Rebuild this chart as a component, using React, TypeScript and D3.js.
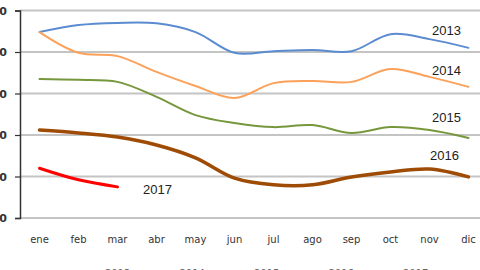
import React, { useRef, useEffect } from "react";
import * as d3 from "d3";

const months = ["ene", "feb", "mar", "abr", "may", "jun", "jul", "ago", "sep", "oct", "nov", "dic"];
const yTicks = [0, 1, 2, 3, 4, 5];
const yTickLabels = ["0", "10", "20", "30", "40", "50"];

const s2013 = [4.48, 4.65, 4.7, 4.69, 4.48, 3.98, 4.02, 4.05, 4.02, 4.43, 4.31, 4.1];
const s2014 = [4.48, 3.98, 3.9, 3.52, 3.18, 2.89, 3.25, 3.3, 3.28, 3.59, 3.4, 3.16];
const s2015 = [3.35, 3.33, 3.28, 2.92, 2.48, 2.29, 2.19, 2.24, 2.05, 2.19, 2.12, 1.93];
const s2016 = [2.12, 2.05, 1.95, 1.76, 1.45, 0.96, 0.8, 0.8, 0.99, 1.11, 1.18, 0.99];
const s2017 = [1.2, 0.92, 0.75];
const years = ["2013", "2014", "2015", "2016", "2017"];

const App: React.FC = () => {
  const svgRef = useRef<SVGSVGElement | null>(null);

  useEffect(() => {
    if (!svgRef.current) return;
    const svg = d3.select(svgRef.current);
    svg.selectAll("*").remove();

    const x = d3.scaleBand().domain(months).range([20, 488]);
    const y = d3.scaleLinear().domain([0, 5]).range([218, 10.5]);
    const cx = (i: number) => (x(months[i]) || 0) + x.bandwidth() / 2;

    // gridlines
    svg
      .append("g")
      .selectAll("line")
      .data(yTicks)
      .enter()
      .append("line")
      .attr("x1", 20)
      .attr("x2", 480)
      .attr("y1", (d) => y(d))
      .attr("y2", (d) => y(d))
      .attr("stroke", "#c4c4c4")
      .attr("stroke-width", 2);

    // y axis
    const yAxis = svg
      .append("g")
      .attr("transform", "translate(20,0)")
      .call(
        d3
          .axisLeft(y)
          .tickValues(yTicks)
          .tickSize(5)
          .tickPadding(8)
          .tickFormat((d, i) => yTickLabels[i])
      );
    yAxis.select(".domain").attr("stroke", "#333").attr("stroke-width", 1.5);
    yAxis.selectAll(".tick line").attr("stroke", "#333").attr("stroke-width", 1.2);
    yAxis
      .selectAll(".tick text")
      .style("font-family", "DejaVu Sans")
      .style("font-size", "11px")
      .style("font-weight", "bold")
      .attr("fill", "#333");

    // x labels
    svg
      .append("g")
      .selectAll("text")
      .data(months)
      .enter()
      .append("text")
      .attr("x", (d, i) => cx(i))
      .attr("y", 243)
      .attr("text-anchor", "middle")
      .style("font-family", "DejaVu Sans")
      .style("font-size", "10px")
      .attr("fill", "#333")
      .text((d) => d);

    const series = [
      { data: s2013, color: "#5b8bd0", width: 2 },
      { data: s2014, color: "#fba15a", width: 2 },
      { data: s2015, color: "#77973d", width: 2 },
      { data: s2016, color: "#9e4c05", width: 3.5 },
      { data: s2017, color: "#ff0000", width: 3 },
    ];

    const line = d3
      .line<number>()
      .x((d, i) => cx(i))
      .y((d) => y(d))
      .curve(d3.curveCatmullRom.alpha(0.5));

    series.forEach((s) => {
      svg
        .append("path")
        .attr("d", line(s.data) || "")
        .attr("fill", "none")
        .attr("stroke", s.color)
        .attr("stroke-width", s.width)
        .attr("stroke-linecap", "round");
    });

    // series labels
    const labelPos = [
      { x: 432, y: 35 },
      { x: 432, y: 75 },
      { x: 432, y: 122 },
      { x: 430, y: 160 },
      { x: 143, y: 194 },
    ];
    svg
      .append("g")
      .selectAll("text")
      .data(years)
      .enter()
      .append("text")
      .attr("x", (d, i) => labelPos[i].x)
      .attr("y", (d, i) => labelPos[i].y)
      .style("font-family", "Liberation Sans")
      .style("font-size", "13px")
      .attr("fill", "#222")
      .text((d) => d);

    // legend (cut off at bottom)
    svg
      .append("g")
      .selectAll("text")
      .data(years)
      .enter()
      .append("text")
      .attr("x", (d, i) => 105 + i * 74.5)
      .attr("y", 277)
      .style("font-family", "DejaVu Sans")
      .style("font-size", "10px")
      .attr("fill", "#666")
      .text((d) => d);
  }, []);

  return (
    <svg
      ref={svgRef}
      width={480}
      height={270}
      style={{ position: "absolute", left: 0, top: 0, background: "#fff" }}
    />
  );
};

export default App;
